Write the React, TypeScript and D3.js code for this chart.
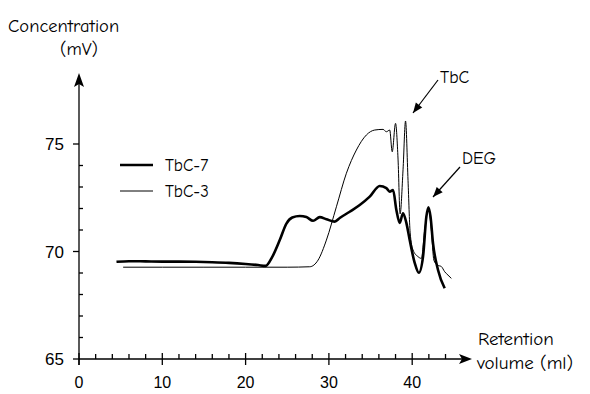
import React, { useEffect, useRef } from 'react';
import * as d3 from 'd3';

// retention volume (ml) / concentration (mV)
const tbc7X = [4.5, 6, 8, 10, 12, 14, 16, 18, 20, 21.5, 22.4, 23.2, 24.1, 24.9, 25.6, 26.5, 27.3, 28.1, 28.9, 29.7, 30.7, 31.3, 32.5, 33.7, 34.9, 36.1, 36.9, 37.3, 37.7, 38.1, 38.5, 38.9, 39.3, 39.7, 40.3, 40.8, 41.3, 41.7, 41.95, 42.2, 42.5, 43.1, 43.9];
const tbc7Y = [69.52, 69.55, 69.54, 69.53, 69.53, 69.52, 69.5, 69.47, 69.42, 69.37, 69.33, 69.75, 70.53, 71.3, 71.58, 71.65, 71.6, 71.43, 71.6, 71.5, 71.39, 71.56, 71.85, 72.16, 72.55, 73.05, 72.95, 72.78, 72.86, 71.93, 71.33, 71.78, 71.33, 70.53, 69.47, 69.01, 69.76, 71.62, 72.06, 71.62, 70.38, 69.14, 68.29];

const tbc3X = [5.3, 10, 15, 20, 25, 27.7, 28.7, 29.7, 30.9, 32.1, 33.3, 34.5, 35.5, 36.5, 36.9, 37.3, 37.6, 38.0, 38.3, 38.55, 38.9, 39.2, 39.5, 39.75, 40.1, 40.7, 41.1, 41.5, 41.95, 42.3, 42.6, 43.0, 43.5, 43.9, 44.3, 44.7];
const tbc3Y = [69.27, 69.27, 69.27, 69.27, 69.27, 69.29, 69.6, 70.53, 72.08, 73.64, 74.72, 75.42, 75.65, 75.68, 75.57, 75.65, 74.64, 75.96, 74.3, 71.75, 73.8, 76.07, 73.3, 70.9, 70.07, 69.76, 69.68, 71.0, 72.0, 71.0, 69.6, 69.37, 69.3, 69.06, 68.9, 68.75];

const xMajorTicks = [0, 10, 20, 30, 40];
const xMinorTicks = d3.range(2, 46, 2).filter(v => v % 10 !== 0);
const yMajorTicks = [65, 70, 75];
const yMinorTicks = [66, 67, 68, 69, 71, 72, 73, 74];

const series = [
  { name: 'TbC-7', xs: tbc7X, ys: tbc7Y, width: 2.6 },
  { name: 'TbC-3', xs: tbc3X, ys: tbc3Y, width: 1 },
];

const comic = '"Comic Sans MS", "Comic Neue", "DejaVu Sans", sans-serif';
const plain = '"Liberation Sans", Arial, sans-serif';

const App = () => {
  const ref = useRef<SVGSVGElement>(null);
  const width = 590;
  const height = 394;

  useEffect(() => {
    const svg = d3.select(ref.current);
    svg.selectAll('*').remove();

    const x = d3.scaleLinear().domain([0, 10]).range([79, 162.3]);
    const y = d3.scaleLinear().domain([65, 75]).range([359, 144]);
    const x0 = x(0);
    const y0 = y(65);

    // axes
    const ax = svg.append('g').attr('stroke', '#000').attr('stroke-width', 1.3);
    ax.append('line').attr('x1', x0).attr('x2', 464).attr('y1', y0).attr('y2', y0);
    ax.append('line').attr('x1', x0).attr('x2', x0).attr('y1', y0 + 6).attr('y2', 84);
    svg.append('path')
      .attr('d', `M472,${y0} L459,${y0 - 5} L462,${y0} L459,${y0 + 5} Z`)
      .attr('fill', '#000');
    svg.append('path')
      .attr('d', `M${x0},73 L${x0 - 5},87 L${x0},84 L${x0 + 5},87 Z`)
      .attr('fill', '#000');

    ax.selectAll('.xmaj').data(xMajorTicks).join('line')
      .attr('x1', d => x(d)).attr('x2', d => x(d))
      .attr('y1', y0 - 6).attr('y2', y0 + 6);
    ax.selectAll('.xmin').data(xMinorTicks).join('line')
      .attr('x1', d => x(d)).attr('x2', d => x(d))
      .attr('y1', y0 - 5).attr('y2', y0);
    ax.selectAll('.ymaj').data(yMajorTicks).join('line')
      .attr('x1', x0 - 6).attr('x2', x0)
      .attr('y1', d => y(d)).attr('y2', d => y(d));
    ax.selectAll('.ymin').data(yMinorTicks).join('line')
      .attr('x1', x0).attr('x2', x0 + 4)
      .attr('y1', d => y(d)).attr('y2', d => y(d));

    svg.append('g').selectAll('text').data(xMajorTicks).join('text')
      .attr('x', d => x(d)).attr('y', 388)
      .attr('text-anchor', 'middle')
      .attr('font-family', plain).attr('font-size', 16)
      .text(d => d);
    svg.append('g').selectAll('text').data(yMajorTicks).join('text')
      .attr('x', 64).attr('y', d => y(d) + 6)
      .attr('text-anchor', 'end')
      .attr('font-family', plain).attr('font-size', 17)
      .text(d => d);

    // curves
    const line = d3.line<[number, number]>()
      .x(d => x(d[0]))
      .y(d => y(d[1]))
      .curve(d3.curveMonotoneX);

    svg.append('g').selectAll('path').data(series).join('path')
      .attr('d', s => line(s.xs.map((v, i) => [v, s.ys[i]] as [number, number])))
      .attr('fill', 'none')
      .attr('stroke', '#000')
      .attr('stroke-width', s => s.width)
      .attr('stroke-linejoin', 'round');

    // legend
    const lg = svg.append('g').selectAll('g').data(series).join('g')
      .attr('transform', (s, i) => `translate(0, ${165 + i * 26})`);
    lg.append('line')
      .attr('x1', 120).attr('x2', 153).attr('y1', 0).attr('y2', 0)
      .attr('stroke', '#000').attr('stroke-width', s => s.width);
    lg.append('text')
      .attr('x', 165).attr('y', 6)
      .attr('font-family', comic).attr('font-size', 17)
      .text(s => s.name);

    // titles
    const t = svg.append('g').attr('font-family', comic).attr('fill', '#000');
    t.append('text').attr('x', 8).attr('y', 32).attr('font-size', 18.5).text('Concentration');
    t.append('text').attr('x', 79).attr('y', 55).attr('font-size', 18.5).attr('text-anchor', 'middle').text('(mV)');
    t.append('text').attr('x', 478).attr('y', 345).attr('font-size', 19).text('Retention');
    t.append('text').attr('x', 477).attr('y', 369).attr('font-size', 19).text('volume (ml)');

    // annotations
    const notes = [
      { label: 'TbC', tx: 440, ty: 83, x1: 438, y1: 80, x2: 413, y2: 113 },
      { label: 'DEG', tx: 462, ty: 164, x1: 460, y1: 167, x2: 433, y2: 197 },
    ];
    const an = svg.append('g').selectAll('g').data(notes).join('g');
    an.append('text')
      .attr('x', n => n.tx).attr('y', n => n.ty)
      .attr('font-family', comic).attr('font-size', 17.5)
      .text(n => n.label);
    an.append('line')
      .attr('x1', n => n.x1).attr('y1', n => n.y1)
      .attr('x2', n => n.x2).attr('y2', n => n.y2)
      .attr('stroke', '#000').attr('stroke-width', 1.2);
    an.append('path')
      .attr('d', n => {
        const a = Math.atan2(n.y2 - n.y1, n.x2 - n.x1);
        const l = 10, w = 4;
        const bx = n.x2 - l * Math.cos(a), by = n.y2 - l * Math.sin(a);
        const px = -Math.sin(a) * w, py = Math.cos(a) * w;
        return `M${n.x2},${n.y2} L${bx + px},${by + py} L${bx - px},${by - py} Z`;
      })
      .attr('fill', '#000');
  });

  return (
    <svg
      ref={ref}
      width={width}
      height={height}
      viewBox={`0 0 ${width} ${height}`}
      style={{ position: 'absolute', left: 0, top: 0, background: '#fff' }}
    />
  );
};

export default App;
